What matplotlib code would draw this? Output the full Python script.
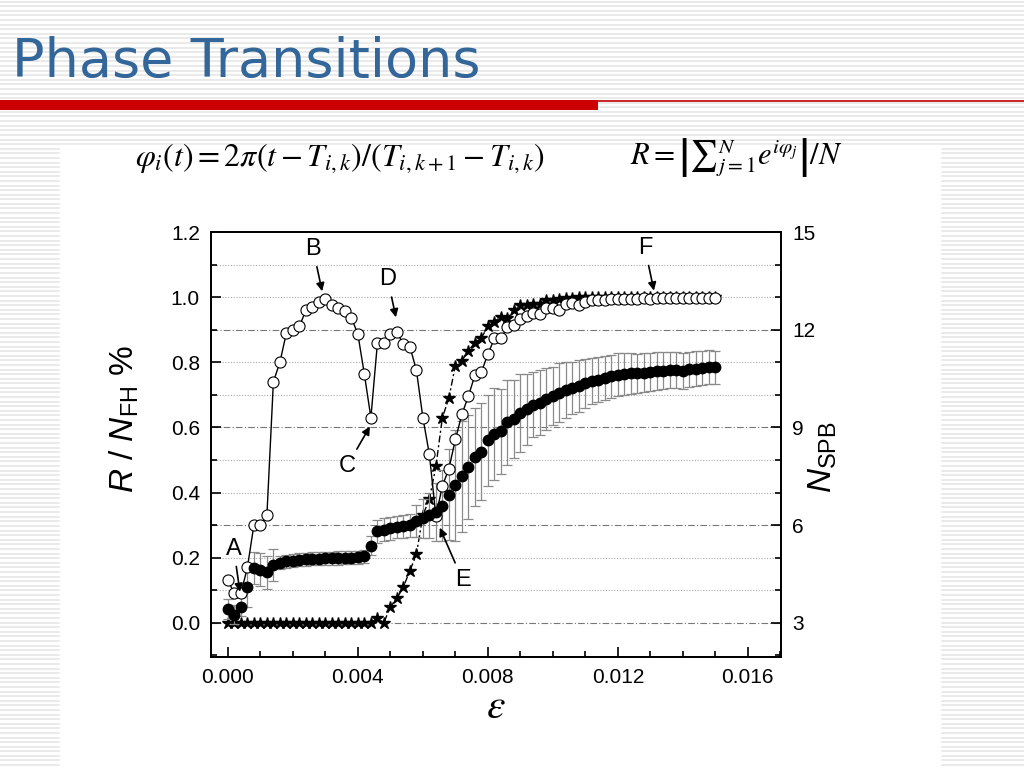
import numpy as np
import matplotlib
matplotlib.use('Agg')
import matplotlib.pyplot as plt
from matplotlib.ticker import MultipleLocator, FormatStrFormatter
from matplotlib.patches import Rectangle

plt.rcParams['font.family'] = ['Liberation Sans', 'DejaVu Sans']
plt.rcParams['mathtext.fontset'] = 'custom'
plt.rcParams['mathtext.rm'] = 'Liberation Sans'
plt.rcParams['mathtext.it'] = 'Liberation Sans:italic'
plt.rcParams['mathtext.bf'] = 'Liberation Sans:bold'

# coupling strength grid
eps = np.round(np.arange(0, 0.01501, 0.0002), 4)

# order parameter R (open circles)
R = [0.13, 0.09, 0.09, 0.17, 0.30, 0.30, 0.33, 0.74, 0.80, 0.89,
     0.90, 0.91, 0.96, 0.97, 0.985, 0.995, 0.975, 0.968, 0.958, 0.937,
     0.886, 0.763, 0.63, 0.858, 0.858, 0.886, 0.893, 0.855, 0.848, 0.776,
     0.63, 0.517, 0.327, 0.42, 0.473, 0.563, 0.64, 0.696, 0.76, 0.77,
     0.825, 0.873, 0.873, 0.907, 0.914, 0.932, 0.942, 0.95, 0.948, 0.967,
     0.967, 0.96, 0.98, 0.982, 0.975, 0.985, 0.99, 0.992, 0.99, 0.994,
     0.995, 0.993, 0.994, 0.995, 0.996, 0.995, 0.996, 0.997, 0.996, 0.997,
     0.997, 0.998, 0.997, 0.998, 0.998, 0.998]

# fraction of frequency-locked neurons N_FH (filled circles) + spread
NFH = [0.042, 0.025, 0.05, 0.11, 0.168, 0.163, 0.155, 0.178, 0.184, 0.189,
       0.19, 0.193, 0.195, 0.196, 0.197, 0.198, 0.198, 0.199, 0.2, 0.2,
       0.201, 0.204, 0.237, 0.281, 0.286, 0.29, 0.294, 0.296, 0.30, 0.312,
       0.321, 0.33, 0.34, 0.36, 0.393, 0.422, 0.45, 0.479, 0.51, 0.526,
       0.561, 0.58, 0.588, 0.616, 0.627, 0.645, 0.655, 0.669, 0.676, 0.686,
       0.696, 0.707, 0.715, 0.722, 0.727, 0.735, 0.742, 0.747, 0.752, 0.757,
       0.762, 0.764, 0.766, 0.766, 0.768, 0.770, 0.772, 0.774, 0.776, 0.776,
       0.774, 0.778, 0.78, 0.782, 0.785, 0.784]
NFH_err = [0.03, 0.03, 0.03, 0.06, 0.05, 0.05, 0.05, 0.05,
           0.02, 0.02, 0.02, 0.02, 0.02, 0.02, 0.02, 0.02, 0.02, 0.02, 0.02, 0.02, 0.02, 0.02,
           0.03, 0.035, 0.035, 0.035, 0.035, 0.035, 0.035,
           0.05, 0.06, 0.07, 0.09, 0.11, 0.14, 0.17, 0.17, 0.16, 0.15,
           0.15, 0.14, 0.14, 0.13, 0.13, 0.12, 0.12, 0.11, 0.10, 0.10,
           0.095, 0.09, 0.09, 0.085, 0.08, 0.08, 0.075,
           0.07, 0.07, 0.068, 0.066, 0.065, 0.064, 0.062, 0.06, 0.06, 0.058,
           0.058, 0.056, 0.056, 0.055, 0.055, 0.054, 0.054, 0.053, 0.053, 0.052]

# number of spikes per burst (stars, right axis)
NSPB = [3.0] * 23 + [3.15, 3.0, 3.5, 3.75, 4.1, 4.6, 5.1, 6.3, 6.8, 7.8,
                     9.3, 9.9, 10.9, 11.05, 11.35, 11.6, 11.75, 12.1, 12.25, 12.4,
                     12.35, 12.6, 12.75, 12.75, 12.8, 12.8, 12.9, 12.92, 12.95, 12.97,
                     12.98] + [13.0] * 22

fig = plt.figure(figsize=(10.24, 7.68), dpi=100)

# slide background
bg = fig.add_axes([0, 0, 1, 1], zorder=-10)
bg.set_xlim(0, 1024)
bg.set_ylim(768, 0)
bg.axis('off')
bg.hlines(np.arange(1.5, 768, 4.6), 0, 1024, color='#e6e6e6', lw=1.2)
bg.add_patch(Rectangle((60, 145), 880, 630, color='white', zorder=2))
bg.add_patch(Rectangle((0, 100), 598, 10, color='#cc0000', lw=0, zorder=3))
bg.hlines(101, 598, 1024, color='#c00000', lw=1.2, zorder=3)

fig.text(12 / 1024, 1 - 77 / 768, 'Phase Transitions', color='#336699', fontsize=39,
         family='DejaVu Sans', va='baseline')

fig.text(135 / 1024, 1 - 158 / 768,
         r'$\varphi_i\left(t\right) = 2\pi\left(t - T_{i,k}\right)/\left(T_{i,k+1} - T_{i,k}\right)$',
         fontsize=23, math_fontfamily='stix', va='center')
fig.text(630 / 1024, 1 - 158 / 768,
         r'$R = \left|{\sum}_{j=1}^{N} e^{i\varphi_j}\right|/N$',
         fontsize=22, math_fontfamily='stix', va='center')

# main plot
ax = fig.add_axes([211 / 1024, 1 - 657 / 768, 570 / 1024, 425 / 768])
ax2 = ax.twinx()
ax2.set_zorder(ax.get_zorder() - 1)
ax.patch.set_visible(False)
ax2.patch.set_facecolor('white')

ylo, yhi = -0.105, 1.2
ax.set_ylim(ylo, yhi)
ax2.set_ylim(3 + 10 * ylo, 3 + 10 * yhi)
ax.set_xlim(-0.00052, 0.01702)

# grid lines tied to right axis
for n in range(3, 15):
    if n % 3 == 0:
        ax2.axhline(n, color='#777777', lw=0.8, ls=(0, (6, 2, 1, 2)), zorder=0)
    else:
        ax2.axhline(n, color='#aaaaaa', lw=0.8, ls=(0, (1, 1.5)), zorder=0)

ax2.plot(eps, NSPB, color='black', ls=(0, (5, 2, 1.5, 2)), lw=1.0,
         marker='*', ms=9, mfc='black', mec='black', zorder=3)

ax.errorbar(eps, NFH, yerr=NFH_err, fmt='none', ecolor='#8a8a8a', elinewidth=0.9,
            capsize=3.5, capthick=0.9, zorder=2)
ax.plot(eps, R, color='black', lw=1.0, marker='o', ms=8, mfc='white', mec='black',
        mew=0.8, zorder=4)
ax.plot(eps, NFH, ls='none', marker='o', ms=7.5, mfc='black', mec='black', zorder=5)

# ticks
ax.xaxis.set_major_locator(MultipleLocator(0.004))
ax.xaxis.set_minor_locator(MultipleLocator(0.001))
ax.xaxis.set_major_formatter(FormatStrFormatter('%.3f'))
ax.yaxis.set_major_locator(MultipleLocator(0.2))
ax.yaxis.set_minor_locator(MultipleLocator(0.1))
ax.yaxis.set_major_formatter(FormatStrFormatter('%.1f'))
ax2.yaxis.set_major_locator(MultipleLocator(3))
ax2.yaxis.set_minor_locator(MultipleLocator(1))
ax.tick_params(which='both', direction='in', labelsize=15, width=1.2, top=False)
ax.tick_params(which='major', length=7, pad=8)
ax.tick_params(which='minor', length=4)
ax2.tick_params(which='both', direction='in', labelsize=15, width=1.2)
ax2.tick_params(which='major', length=7, pad=8)
ax2.tick_params(which='minor', length=4)
for a in (ax, ax2):
    for s in a.spines.values():
        s.set_linewidth(1.3)

ax.set_ylabel(r'$R$ / $N_{\mathrm{FH}}$ %', fontsize=24)
ax.yaxis.set_label_coords(-0.123, 0.56)
ax2.set_ylabel(r'$N_{\mathrm{SPB}}$', fontsize=24)
ax2.yaxis.set_label_coords(1.045, 0.47)
ax.set_xlabel(r'$\varepsilon$', fontsize=30, math_fontfamily='stix', labelpad=0)

# labelled points
arrow = dict(arrowstyle='-|>', color='black', lw=1.2, shrinkA=3, shrinkB=0,
             mutation_scale=12)
notes = [('A', (0.00018, 0.228), (0.00037, 0.095)),
         ('B', (0.00262, 1.148), (0.0029, 1.018)),
         ('C', (0.00366, 0.48), (0.00437, 0.603)),
         ('D', (0.00492, 1.055), (0.00517, 0.938)),
         ('E', (0.00723, 0.13), (0.00652, 0.292)),
         ('F', (0.01283, 1.152), (0.01311, 1.02))]
for lab, txt, tip in notes:
    ax.annotate(lab, xy=tip, xytext=txt, fontsize=17, ha='center', va='center',
                arrowprops=arrow, zorder=6)

fig.savefig('out.png', dpi=100)
